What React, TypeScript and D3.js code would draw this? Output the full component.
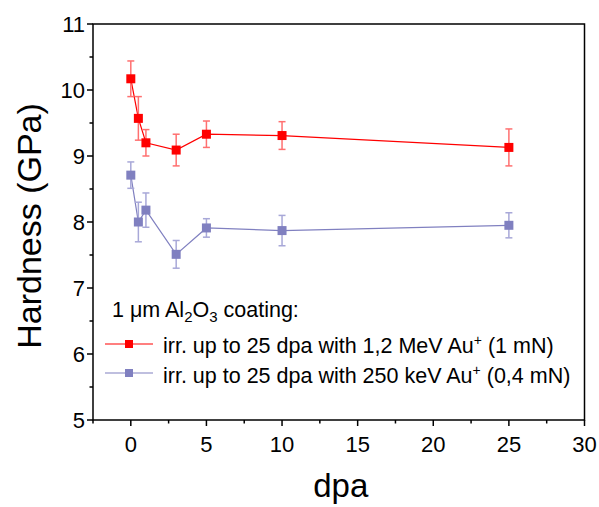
import React from "react";
import * as d3 from "d3";

const dpaRed = [0, 0.5, 1, 3, 5, 10, 25];
const hardRed = [10.17, 9.57, 9.2, 9.09, 9.33, 9.31, 9.13];
const errRed = [0.27, 0.33, 0.2, 0.24, 0.2, 0.21, 0.28];

const dpaBlue = [0, 0.5, 1, 3, 5, 10, 25];
const hardBlue = [8.71, 8.0, 8.18, 7.51, 7.91, 7.87, 7.95];
const errBlue = [0.2, 0.3, 0.26, 0.21, 0.14, 0.23, 0.19];

const xTicks = [0, 5, 10, 15, 20, 25, 30];
const yTicks = [5, 6, 7, 8, 9, 10, 11];

const W = 599;
const H = 507;
const L = 93, R = 584.5, T = 24, B = 420;
const FONT = "'Liberation Sans', Arial, sans-serif";

export default function App() {
  const x = d3.scaleLinear().domain([-2.5, 30]).range([L, R]);
  const y = d3.scaleLinear().domain([5, 11]).range([B, T]);
  const xMinor = d3.range(-2.5, 30.01, 2.5).filter((v) => !xTicks.includes(v));
  const yMinor = d3.range(5, 11.01, 0.5).filter((v) => !yTicks.includes(v));

  const line = d3
    .line<[number, number]>()
    .x((d) => x(d[0]))
    .y((d) => y(d[1]));

  const series = [
    { xs: dpaRed, ys: hardRed, es: errRed, color: "#FF0000", err: "#FF7070" },
    { xs: dpaBlue, ys: hardBlue, es: errBlue, color: "#8080C0", err: "#A8A8D8" },
  ];
  const ms = 9;

  return (
    <svg width={W} height={H} style={{ position: "absolute", left: 0, top: 0 }} fontFamily={FONT}>
      <rect x={0} y={0} width={W} height={H} fill="#fff" />
      {series.map((s, si) => (
        <g key={si}>
          <path
            d={line(s.xs.map((v, i) => [v, s.ys[i]] as [number, number])) || ""}
            fill="none"
            stroke={s.color}
            strokeWidth={1.2}
          />
          {s.xs.map((v, i) => (
            <g key={i} stroke={s.err} strokeWidth={1.5}>
              <line x1={x(v)} x2={x(v)} y1={y(s.ys[i] + s.es[i])} y2={y(s.ys[i] - s.es[i])} />
              <line x1={x(v) - 3.5} x2={x(v) + 3.5} y1={y(s.ys[i] + s.es[i])} y2={y(s.ys[i] + s.es[i])} />
              <line x1={x(v) - 3.5} x2={x(v) + 3.5} y1={y(s.ys[i] - s.es[i])} y2={y(s.ys[i] - s.es[i])} />
            </g>
          ))}
          {s.xs.map((v, i) => (
            <rect key={"m" + i} x={x(v) - ms / 2} y={y(s.ys[i]) - ms / 2} width={ms} height={ms} fill={s.color} />
          ))}
        </g>
      ))}
      {/* frame */}
      <rect x={L} y={T} width={R - L} height={B - T} fill="none" stroke="#000" strokeWidth={1.5} />
      {/* x ticks */}
      {xTicks.map((v) => (
        <g key={"xt" + v}>
          <line x1={x(v)} x2={x(v)} y1={B} y2={B + 6} stroke="#000" strokeWidth={1.5} />
          <text x={x(v)} y={452} textAnchor="middle" fontSize={22}>{v}</text>
        </g>
      ))}
      {xMinor.map((v) => (
        <line key={"xm" + v} x1={x(v)} x2={x(v)} y1={B} y2={B + 3.5} stroke="#000" strokeWidth={1.5} />
      ))}
      {yTicks.map((v) => (
        <g key={"yt" + v}>
          <line x1={L - 6} x2={L} y1={y(v)} y2={y(v)} stroke="#000" strokeWidth={1.5} />
          <text x={L - 8} y={y(v) + 8} textAnchor="end" fontSize={22}>{v}</text>
        </g>
      ))}
      {yMinor.map((v) => (
        <line key={"ym" + v} x1={L - 3.5} x2={L} y1={y(v)} y2={y(v)} stroke="#000" strokeWidth={1.5} />
      ))}
      <text x={(L + R) / 2 + 2} y={497} textAnchor="middle" fontSize={33}>dpa</text>
      <text transform={`translate(41,226) rotate(-90)`} textAnchor="middle" fontSize={34}>Hardness (GPa)</text>
      {/* legend */}
      <text x={112} y={317} fontSize={21.5}>
        1 μm Al<tspan fontSize={15} dy={5}>2</tspan><tspan dy={-5}>O</tspan><tspan fontSize={15} dy={5}>3</tspan><tspan dy={-5}> coating:</tspan>
      </text>
      {[
        { c: "#FF0000", label: "irr. up to 25 dpa with 1,2 MeV Au", tail: " (1 mN)", ly: 344, ty: 353 },
        { c: "#8080C0", label: "irr. up to 25 dpa with 250 keV Au", tail: " (0,4 mN)", ly: 373, ty: 383 },
      ].map((e, i) => (
        <g key={"lg" + i}>
          <line x1={105} x2={153} y1={e.ly} y2={e.ly} stroke={e.c} strokeWidth={1.2} />
          <rect x={129 - 4} y={e.ly - 4} width={8} height={8} fill={e.c} />
          <text x={163} y={e.ty} fontSize={21.5}>
            {e.label}<tspan fontSize={14} dy={-8}>+</tspan><tspan dy={8}>{e.tail}</tspan>
          </text>
        </g>
      ))}
    </svg>
  );
}
